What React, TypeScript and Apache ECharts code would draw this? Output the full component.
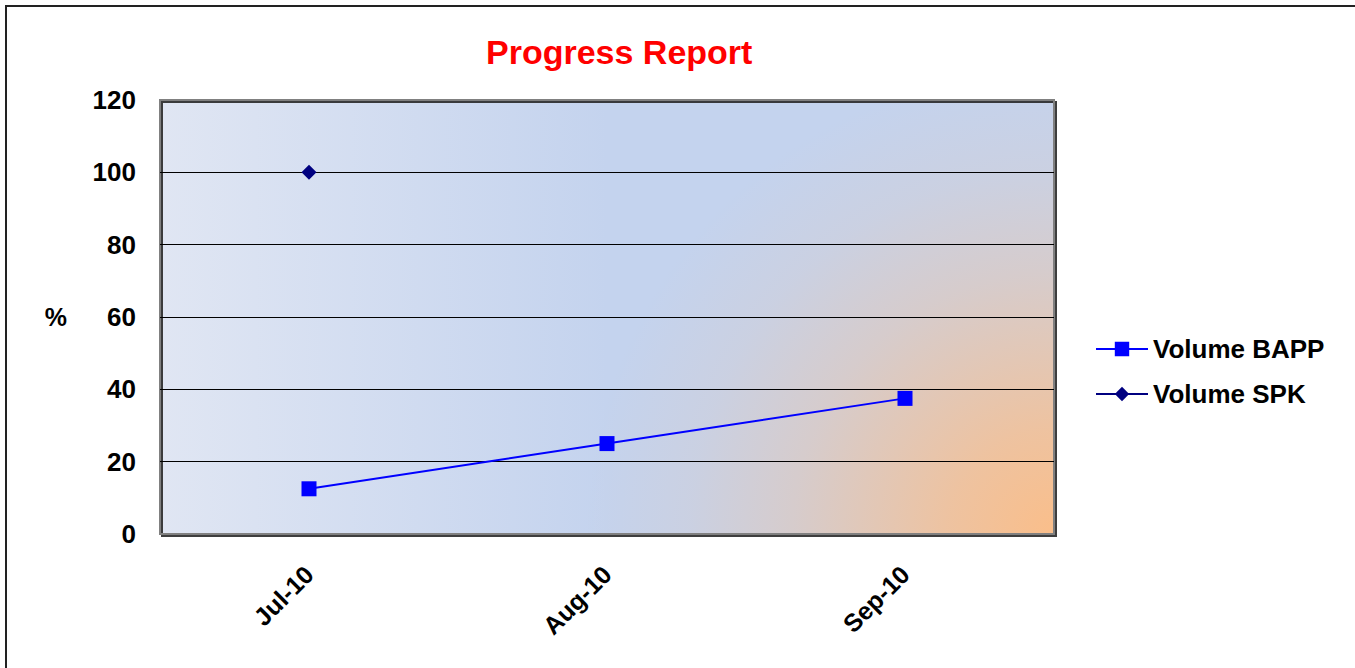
import React, { useEffect, useRef } from "react";
import * as echarts from "echarts";

const categories = ["Jul-10", "Aug-10", "Sep-10"];
const volumeBAPP = [12.5, 25, 37.5];
const volumeSPK: (number | null)[] = [100, null, null];
const yTicks = { min: 0, max: 120, interval: 20 };

const FONT = "'Liberation Sans', Arial, sans-serif";

export default function App() {
  const ref = useRef<HTMLDivElement>(null);

  useEffect(() => {
    if (!ref.current) return;
    const chart = echarts.init(ref.current, null, { renderer: "svg" });
    const plot = { left: 160, top: 100, right: 301, bottom: 134 };
    const pw = 1355 - plot.left - plot.right;
    const ph = 668 - plot.top - plot.bottom;
    chart.setOption({
      animation: false,
      backgroundColor: "#ffffff",
      title: {
        text: "Progress Report",
        left: 481,
        top: 30,
        textStyle: { color: "#ff0000", fontSize: 34, fontWeight: "bold", fontFamily: FONT },
      },
      legend: {
        orient: "vertical",
        left: 1090,
        top: 331,
        itemWidth: 52,
        itemHeight: 18,
        itemGap: 19,
        textStyle: { color: "#000", fontSize: 26, fontWeight: "bold", fontFamily: FONT },
        data: ["Volume BAPP", "Volume SPK"],
      },
      grid: {
        left: plot.left,
        right: plot.right,
        top: plot.top,
        bottom: plot.bottom,
        show: true,
        outerBoundsMode: "none",
        containLabel: false,
        borderColor: "#808080",
        borderWidth: 2,
        shadowColor: "rgba(40,40,40,0.9)",
        shadowBlur: 1,
        shadowOffsetX: 2,
        shadowOffsetY: 2,
        backgroundColor: "transparent",
      },
      xAxis: {
        type: "category",
        data: categories,
        boundaryGap: true,
        axisLine: { show: false },
        axisTick: { show: false },
        axisLabel: {
          rotate: 45,
          margin: 36,
          color: "#000",
          fontSize: 25,
          fontWeight: "bold",
          fontFamily: FONT,
        },
      },
      yAxis: {
        type: "value",
        min: yTicks.min,
        max: yTicks.max,
        interval: yTicks.interval,
        name: "%",
        nameLocation: "middle",
        nameRotate: 0,
        nameGap: 93,
        nameTextStyle: { color: "#000", fontSize: 25, fontWeight: "bold", fontFamily: FONT },
        axisLine: { show: false },
        axisTick: { show: false },
        axisLabel: {
          margin: 24,
          color: "#000",
          fontSize: 26,
          fontWeight: "bold",
          fontFamily: FONT,
        },
        splitLine: {
          show: true,
          showMinLine: false,
          showMaxLine: false,
          lineStyle: { color: "#000", width: 1 },
        },
      },
      series: [
        {
          name: "Volume BAPP",
          type: "line",
          data: volumeBAPP,
          symbol: "rect",
          symbolSize: 15,
          showSymbol: true,
          lineStyle: { color: "#0000ff", width: 2 },
          itemStyle: { color: "#0000ff" },
        },
        {
          name: "Volume SPK",
          type: "line",
          data: volumeSPK,
          symbol: "diamond",
          symbolSize: 15,
          showSymbol: true,
          connectNulls: false,
          lineStyle: { color: "#000080", width: 2 },
          itemStyle: { color: "#000080" },
        },
      ],
      graphic: [
        {
          type: "rect",
          z: -3,
          silent: true,
          shape: { x: plot.left, y: plot.top, width: pw, height: ph },
          style: {
            fill: {
              type: "linear",
              x: 0,
              y: 0,
              x2: 1,
              y2: 0,
              colorStops: [
                { offset: 0, color: "#e0e6f3" },
                { offset: 0.5, color: "#c4d3ee" },
                { offset: 1, color: "#c4d3ee" },
              ],
            },
          },
        },
        {
          type: "rect",
          z: -2,
          silent: true,
          shape: { x: plot.left, y: plot.top, width: pw, height: ph },
          style: {
            fill: {
              type: "radial",
              x: plot.left + pw,
              y: plot.top + ph,
              r: 520,
              global: true,
              colorStops: [
                { offset: 0, color: "rgba(250,190,138,1)" },
                { offset: 0.2, color: "rgba(250,190,138,0.78)" },
                { offset: 0.5, color: "rgba(250,190,138,0.34)" },
                { offset: 0.7, color: "rgba(250,190,138,0.12)" },
                { offset: 0.9, color: "rgba(250,190,138,0)" },
                { offset: 1, color: "rgba(250,190,138,0)" },
              ],
            },
          },
        },
        {
          type: "rect",
          shape: { x: 6, y: 6, width: 1400, height: 700 },
          style: { fill: "none", stroke: "#222", lineWidth: 2 },
          silent: true,
        },
      ],
    });
    return () => chart.dispose();
  }, []);

  return (
    <div
      ref={ref}
      style={{ position: "absolute", left: 0, top: 0, width: 1355, height: 668 }}
    />
  );
}
